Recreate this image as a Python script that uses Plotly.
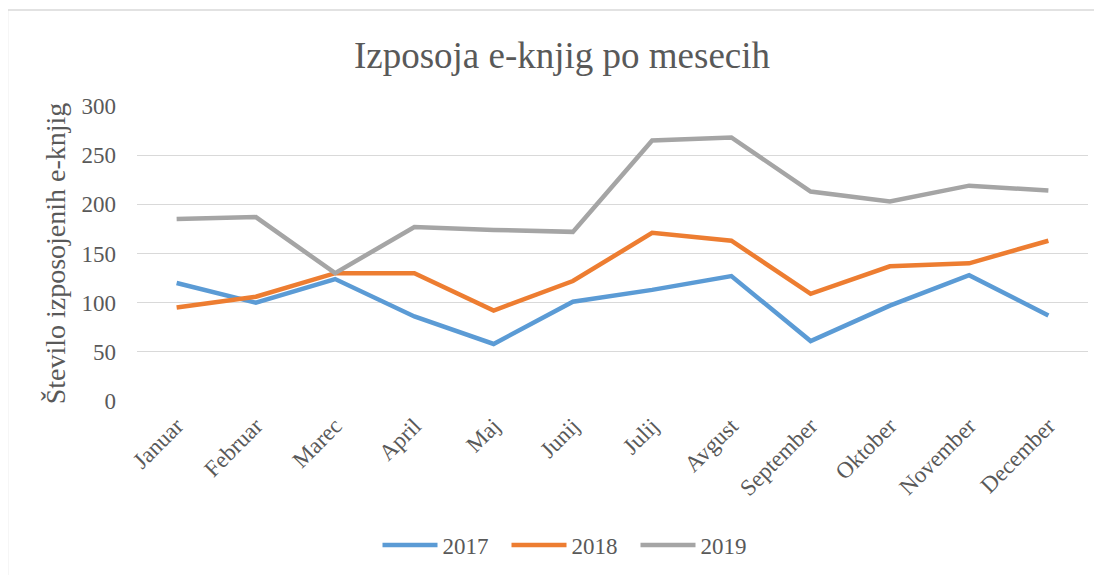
import plotly.graph_objects as go

months = ["Januar", "Februar", "Marec", "April", "Maj", "Junij", "Julij",
          "Avgust", "September", "Oktober", "November", "December"]
y2017 = [120, 100, 124, 86, 58, 101, 113, 127, 61, 97, 128, 87]
y2018 = [95, 106, 130, 130, 92, 122, 171, 163, 109, 137, 140, 163]
y2019 = [185, 187, 130, 177, 174, 172, 265, 268, 213, 203, 219, 214]
series = [("2017", y2017, "#5B9BD5"), ("2018", y2018, "#ED7D31"), ("2019", y2019, "#A5A5A5")]

FONT = "Liberation Serif"
TXT = "#595959"

OFF = 8  # default page margin around the plot div
W, H = 1102 - OFF, 575 - OFF
# plot area in page pixels
L, R, T, B = 137, 1088, 106, 401

fig = go.Figure()
for name, vals, col in series:
    fig.add_trace(go.Scatter(x=months, y=vals, name=name, mode="lines",
                             line=dict(color=col, width=4.5, shape="linear")))

pw, ph = R - L, B - T
def px_x(p):
    return (p - L) / pw
def px_y(p):
    return (B - p) / ph

fig.update_layout(
    width=W, height=H,
    margin=dict(l=L - OFF, r=W - (R - OFF), t=T - OFF, b=H - (B - OFF), autoexpand=False),
    paper_bgcolor="white", plot_bgcolor="white",
    font=dict(family=FONT, color=TXT, size=23),
    title=dict(text="Izposoja e-knjig po mesecih", x=(562 - OFF) / W, xanchor="center",
               y=1 - (55 - OFF) / H, yanchor="middle", font=dict(size=37, color=TXT, family=FONT)),
    showlegend=True,
    legend=dict(orientation="h", x=px_x(571), xanchor="center", y=px_y(545), yanchor="middle",
                font=dict(size=23, color=TXT, family=FONT), itemwidth=55,
                entrywidth=59, entrywidthmode="pixels", bgcolor="rgba(0,0,0,0)"),
    xaxis=dict(type="category", range=[-0.5, 11.5], showgrid=False, showline=False, zeroline=False,
               tickangle=-45, tickfont=dict(size=23, color=TXT, family=FONT), ticks="",
               ticklabelstandoff=6),
    yaxis=dict(range=[0, 300], dtick=50, showgrid=True, gridcolor="#D9D9D9", gridwidth=1.3,
               zeroline=False, showline=False, ticks="", ticklabelstandoff=20,
               tickfont=dict(size=23, color=TXT, family=FONT),
               title=dict(text="Število izposojenih e-knjig", standoff=7,
                          font=dict(size=28, color=TXT, family=FONT))),
)

fig.add_shape(type="rect", xref="paper", yref="paper",
              x0=px_x(7.5), x1=px_x(1115), y0=px_y(10), y1=px_y(590),
              line=dict(color="#D9D9D9", width=1.5), fillcolor="rgba(0,0,0,0)", layer="below")

fig.write_html("out.html")
